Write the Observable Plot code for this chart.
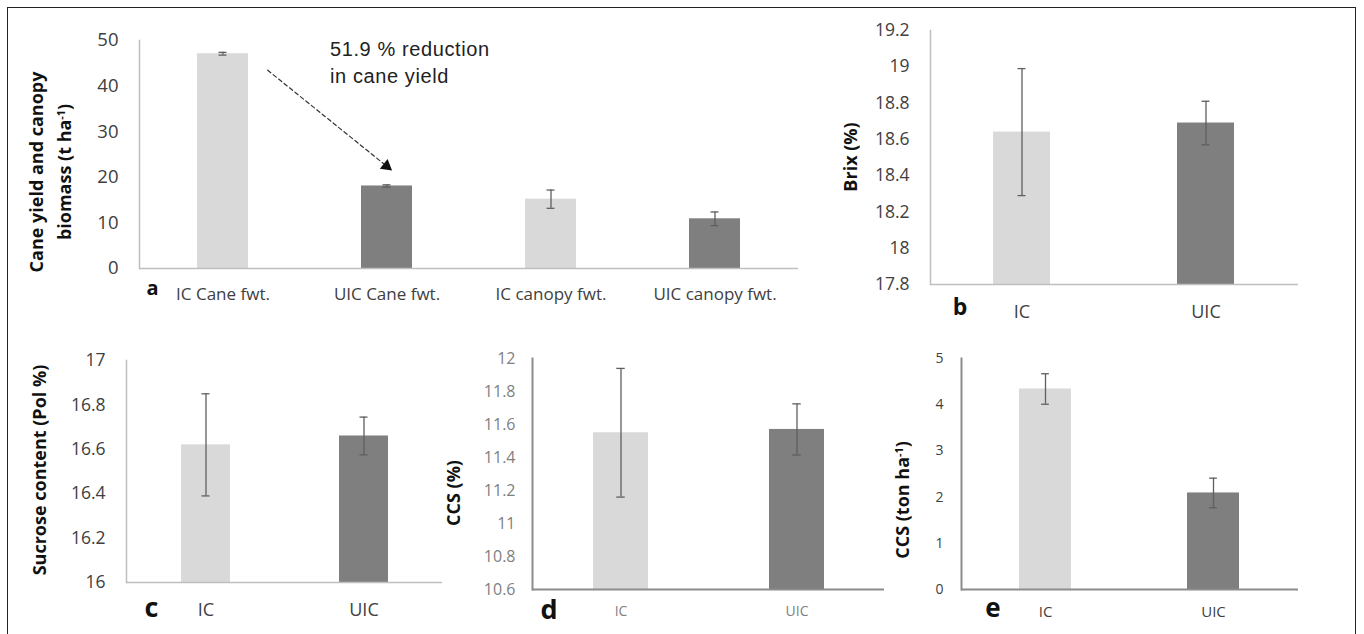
<!DOCTYPE html>
<html>
<head>
<meta charset="utf-8">
<script src="https://cdn.jsdelivr.net/npm/d3@7"></script>
<script src="https://cdn.jsdelivr.net/npm/@observablehq/plot@0.6"></script>
<style>
  html, body { margin: 0; padding: 0; background: #fff; }
  #root { position: relative; width: 1364px; height: 634px; overflow: hidden; background: #fff; }
  .border { position: absolute; left: 7px; top: 7px; width: 1349px; height: 700px; border: 1.5px solid #222; box-sizing: border-box; }
  .t { position: absolute; white-space: nowrap; line-height: 1; font-family: 'Open Sans', sans-serif; }
  .v { transform: translate(-50%, -50%) rotate(-90deg); font-weight: 700; font-size: 18px; color: #111; text-align: center; }
  .letter { transform: translate(-50%, -50%); font-weight: 700; color: #111; }
  sup { font-size: 0.6em; line-height: 0; vertical-align: 0.6em; }
</style>
</head>
<body>
<div id="root"><div class="border"></div></div>
<script>
// ---------- data ----------
const barColors = ["#d9d9d9", "#7f7f7f"];

const catsA  = ["IC Cane fwt.", "UIC Cane fwt.", "IC canopy fwt.", "UIC canopy fwt."];
const valsA  = [47.1, 18.1, 15.2, 10.9];
const errsA  = [0.3, 0.25, 2.0, 1.5];
const ticksA = [0, 10, 20, 30, 40, 50];

const groups = ["IC", "UIC"];

const brixVals  = [18.64, 18.69];
const brixErrs  = [0.35, 0.12];
const brixTicks = [17.8, 18, 18.2, 18.4, 18.6, 18.8, 19, 19.2];

const polVals  = [16.62, 16.66];
const polErrs  = [0.23, 0.085];
const polTicks = [16, 16.2, 16.4, 16.6, 16.8, 17];

const ccsVals  = [11.55, 11.57];
const ccsErrs  = [0.39, 0.155];
const ccsTicks = [10.6, 10.8, 11, 11.2, 11.4, 11.6, 11.8, 12];

const ccsHaVals  = [4.34, 2.09];
const ccsHaErrs  = [0.33, 0.32];
const ccsHaTicks = [0, 1, 2, 3, 4, 5];

const annotation = ["51.9 % reduction", "in cane yield"];

// ---------- helpers ----------
const root = document.getElementById("root");

function addText(html, cls, css) {
  const d = document.createElement("div");
  d.className = "t " + cls;
  d.innerHTML = html;
  Object.assign(d.style, css);
  root.appendChild(d);
  return d;
}

function panel(o) {
  const rows = o.cats.map((c, i) => ({cat: c, v: o.vals[i], e: o.errs[i], fill: barColors[i % 2]}));
  const mL = 80, mR = 10, mT = 15, mB = 45;
  const lo = o.ticks[0], hi = o.ticks[o.ticks.length - 1];
  const fw = o.fr.r - o.fr.l, fh = o.fr.b - o.fr.t;
  const pI = 0.69;
  const step = fw / o.cats.length;
  const bw = step * (1 - pI);
  const capIn = (bw - 8) / 2;
  const errStyle = {stroke: "#5f5f5f", strokeWidth: 1.3};
  const chart = Plot.plot({
    width: fw + mL + mR,
    height: fh + mT + mB,
    marginLeft: mL, marginRight: mR, marginTop: mT, marginBottom: mB,
    x: {domain: o.cats, paddingInner: pI, paddingOuter: pI / 2, align: 0.5, axis: null},
    y: {domain: [lo, hi], axis: null},
    color: {type: "identity"},
    style: {fontFamily: "'Open Sans', sans-serif", background: "transparent", overflow: "visible"},
    marks: [
      Plot.barY(rows, {x: "cat", y1: () => lo, y2: "v", fill: "fill"}),
      Plot.ruleX(rows, {x: "cat", y1: d => d.v - d.e, y2: d => d.v + d.e, ...errStyle}),
      Plot.tickY(rows, {x: "cat", y: d => d.v + d.e, insetLeft: capIn, insetRight: capIn, ...errStyle}),
      Plot.tickY(rows, {x: "cat", y: d => d.v - d.e, insetLeft: capIn, insetRight: capIn, ...errStyle}),
      Plot.ruleY([lo], {stroke: o.axisColor, strokeWidth: o.axisWidth}),
      Plot.frame({anchor: "left", stroke: o.axisColor, strokeWidth: o.axisWidth}),
      Plot.axisY({ticks: o.ticks, tickSize: 0, tickPadding: o.yGap, fontSize: o.yFont, color: o.yColor, tickFormat: d => String(d), label: null}),
      Plot.axisX({tickSize: 0, tickPadding: o.xPad, fontSize: o.xFont, color: o.xColor, label: null}),
      ...(o.extra ? o.extra() : [])
    ]
  });
  chart.style.position = "absolute";
  chart.style.left = (o.fr.l - mL) + "px";
  chart.style.top = (o.fr.t - mT) + "px";
  root.appendChild(chart);
}

// ---------- panel a ----------
const arrowRow = [{a: catsA[0], b: catsA[1], va: valsA[0], vb: valsA[1]}];
panel({
  cats: catsA, vals: valsA, errs: errsA, ticks: ticksA,
  fr: {l: 139, r: 798, t: 40, b: 268},
  axisColor: "#bfbfbf", axisWidth: 1.5,
  yGap: 21, yFont: 18.5, yColor: "#404040",
  xPad: 19, xFont: 17, xColor: "#404040",
  extra: () => [
    Plot.arrow(arrowRow, {x1: "a", y1: "va", x2: "b", y2: "vb", dx: 5, dy: -15.5,
      insetStart: 51, insetEnd: 9, headLength: 0, stroke: "#333", strokeWidth: 1.2, strokeDasharray: "4,3"}),
    Plot.dot(arrowRow, {x: "b", y: "vb", dx: -0.5, dy: -19.9, symbol: "triangle", r: 4.6,
      rotate: 128.8, fill: "#111", stroke: "none"})
  ]
});
addText(annotation.join("<br>"), "", {left: "330px", top: "36px", fontFamily: "'Liberation Sans', Arial, sans-serif",
  fontSize: "20px", lineHeight: "27px", letterSpacing: "0.6px", color: "#222"});
addText("Cane yield and canopy<br>biomass (t ha<sup>-1</sup>)", "v", {left: "49.5px", top: "172px", lineHeight: "28px"});
addText("a", "letter", {left: "152.5px", top: "288px", fontSize: "20px"});

// ---------- panel b ----------
panel({
  cats: groups, vals: brixVals, errs: brixErrs, ticks: brixTicks,
  fr: {l: 930, r: 1298, t: 30, b: 284},
  axisColor: "#bfbfbf", axisWidth: 1.5,
  yGap: 21, yFont: 17.5, yColor: "#404040",
  xPad: 21, xFont: 18, xColor: "#404040"
});
addText("Brix (%)", "v", {left: "850.3px", top: "157px"});
addText("b", "letter", {left: "960px", top: "306px", fontSize: "23px"});

// ---------- panel c ----------
panel({
  cats: groups, vals: polVals, errs: polErrs, ticks: polTicks,
  fr: {l: 126, r: 442, t: 360, b: 582},
  axisColor: "#bfbfbf", axisWidth: 1.5,
  yGap: 21, yFont: 17.5, yColor: "#404040",
  xPad: 21, xFont: 18, xColor: "#404040"
});
addText("Sucrose content (Pol %)", "v", {left: "39.3px", top: "470px"});
addText("c", "letter", {left: "151.5px", top: "605.8px", fontSize: "27px"});

// ---------- panel d ----------
panel({
  cats: groups, vals: ccsVals, errs: ccsErrs, ticks: ccsTicks,
  fr: {l: 532, r: 884, t: 358, b: 589},
  axisColor: "#8c8c8c", axisWidth: 2,
  yGap: 17, yFont: 16, yColor: "#7f7f7f",
  xPad: 17, xFont: 14, xColor: "#7f7f7f"
});
addText("CCS (%)", "v", {left: "453.3px", top: "493px"});
addText("d", "letter", {left: "549px", top: "608px", fontSize: "27px"});

// ---------- panel e ----------
panel({
  cats: groups, vals: ccsHaVals, errs: ccsHaErrs, ticks: ccsHaTicks,
  fr: {l: 961, r: 1298, t: 358, b: 589},
  axisColor: "#8c8c8c", axisWidth: 2,
  yGap: 18, yFont: 14, yColor: "#404040",
  xPad: 17, xFont: 15, xColor: "#404040"
});
addText("CCS (ton ha<sup>-1</sup>)", "v", {left: "902.3px", top: "500px"});
addText("e", "letter", {left: "993px", top: "607px", fontSize: "26px"});
</script>
</body>
</html>
